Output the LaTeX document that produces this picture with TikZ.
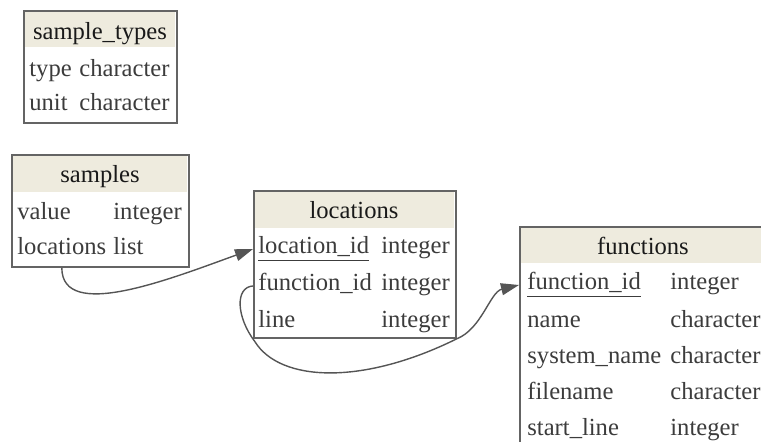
\documentclass[tikz,border=0pt]{standalone}
\usepackage{fontspec}
\setmainfont{Liberation Serif}
\usetikzlibrary{arrows.meta,positioning}
\definecolor{hdrbg}{RGB}{238,235,222}
\definecolor{framegray}{RGB}{100,100,100}
\definecolor{edgegray}{RGB}{85,85,85}
\definecolor{txtgray}{RGB}{60,60,60}

\tikzset{
  tbl/.style={draw=framegray, line width=0.9pt, inner sep=0pt, anchor=north west},
  cell/.style={anchor=base west, inner sep=0pt, text=txtgray,
    font=\fontsize{12.3}{14}\selectfont, text height=0.7em, text depth=0.2em},
  head/.style={cell, anchor=base, text=black!90},
  fk/.style={draw=edgegray, line width=0.7pt, -{Triangle[length=9pt,width=6pt]}}
}

\begin{document}
\begin{tikzpicture}[x=0.5pt, y=-0.5pt]
  \useasboundingbox (0,0) rectangle (761,442);

  % header backgrounds
  \fill[hdrbg] (24,11) rectangle (175,47);
  \fill[hdrbg] (12,155) rectangle (187,192);
  \fill[hdrbg] (254,191) rectangle (454,228);
  \fill[hdrbg] (520,227) rectangle (766,263);

  % table frames
  \node[tbl, minimum width=76.5pt, minimum height=56pt] (st) at (23,10) {};
  \node[tbl, minimum width=88.5pt, minimum height=56pt] (smp) at (11,154) {};
  \node[tbl, minimum width=101pt, minimum height=73.5pt] (loc) at (253,190) {};
  \node[tbl, minimum width=124pt, minimum height=122pt] (fn) at (519,226) {};

  % sample_types
  \node[head] (st-head) at (100,40) {sample\_types};
  \node[cell] (st-type) at (29,77) {type};
  \node[cell] (st-typet) at (79,77) {character};
  \node[cell] (st-unit) at (29,111) {unit};
  \node[cell] (st-unitt) at (79,111) {character};

  % samples
  \node[head] (smp-head) at (100,183) {samples};
  \node[cell] (smp-value) at (17,220) {value};
  \node[cell] (smp-valuet) at (113,220) {integer};
  \node[cell] (smp-locs) at (17,255) {locations};
  \node[cell] (smp-locst) at (113,255) {list};

  % locations
  \node[head] (loc-head) at (354,219) {locations};
  \node[cell] (loc-locid) at (258,254) {\underline{location\_id}};
  \node[cell] (loc-locidt) at (381,254) {integer};
  \node[cell] (loc-fnid) at (258,291) {function\_id};
  \node[cell] (loc-fnidt) at (381,291) {integer};
  \node[cell] (loc-line) at (258,328) {line};
  \node[cell] (loc-linet) at (381,328) {integer};

  % functions
  \node[head] (fn-head) at (643,255) {functions};
  \node[cell] (fn-fnid) at (527,290) {\underline{function\_id}};
  \node[cell] (fn-fnidt) at (670,290) {integer};
  \node[cell] (fn-name) at (527,328) {name};
  \node[cell] (fn-namet) at (670,328) {character};
  \node[cell] (fn-sys) at (527,364) {system\_name};
  \node[cell] (fn-syst) at (670,364) {character};
  \node[cell] (fn-file) at (527,400) {filename};
  \node[cell] (fn-filet) at (670,400) {character};
  \node[cell] (fn-start) at (527,436) {start\_line};
  \node[cell] (fn-startt) at (670,436) {integer};

  % references
  \draw[fk] (smp.south -| smp-locs) .. controls +(0,54) and +(-83,30) .. (loc.west |- loc-locid);
  \draw[fk] (loc.west |- loc-fnid) .. controls +(-18,1) and +(-19,-25) .. ([shift={(2,3)}]loc.south west)
    .. controls +(25,40) and +(-95,47) .. (loc.south east)
    .. controls +(25,-10) and +(-29,7) .. (fn.west |- fn-fnid);
\end{tikzpicture}
\end{document}
